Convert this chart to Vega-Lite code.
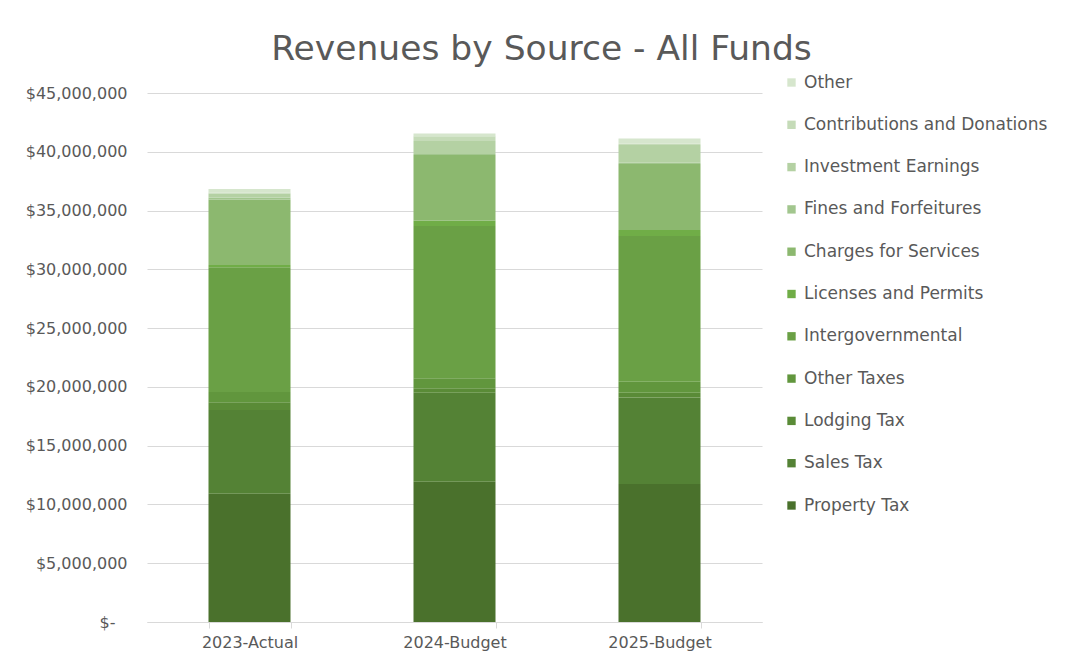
{
  "$schema": "https://vega.github.io/schema/vega-lite/v6.json",
  "width": 615,
  "height": 529,
  "autosize": {"type": "none"},
  "padding": {"left": 147, "top": 93, "right": 303, "bottom": 42},
  "background": "white",
  "title": {
    "text": "Revenues by Source - All Funds",
    "anchor": "middle",
    "dx": 87,
    "offset": 7,
    "font": "DejaVu Sans",
    "fontSize": 34.5,
    "fontWeight": "normal",
    "color": "#595959"
  },
  "data": {
    "values": [
      {"year": "2023-Actual", "source": "Property Tax", "rank": 1, "amount": 10900000},
      {"year": "2023-Actual", "source": "Sales Tax", "rank": 2, "amount": 7130000},
      {"year": "2023-Actual", "source": "Lodging Tax", "rank": 3, "amount": 670000},
      {"year": "2023-Actual", "source": "Other Taxes", "rank": 4, "amount": 860000},
      {"year": "2023-Actual", "source": "Intergovernmental", "rank": 5, "amount": 10620000},
      {"year": "2023-Actual", "source": "Licenses and Permits", "rank": 6, "amount": 190000},
      {"year": "2023-Actual", "source": "Charges for Services", "rank": 7, "amount": 5580000},
      {"year": "2023-Actual", "source": "Fines and Forfeitures", "rank": 8, "amount": 150000},
      {"year": "2023-Actual", "source": "Investment Earnings", "rank": 9, "amount": 330000},
      {"year": "2023-Actual", "source": "Contributions and Donations", "rank": 10, "amount": 100000},
      {"year": "2023-Actual", "source": "Other", "rank": 11, "amount": 300000},
      {"year": "2024-Budget", "source": "Property Tax", "rank": 1, "amount": 11940000},
      {"year": "2024-Budget", "source": "Sales Tax", "rank": 2, "amount": 7570000},
      {"year": "2024-Budget", "source": "Lodging Tax", "rank": 3, "amount": 370000},
      {"year": "2024-Budget", "source": "Other Taxes", "rank": 4, "amount": 850000},
      {"year": "2024-Budget", "source": "Intergovernmental", "rank": 5, "amount": 12960000},
      {"year": "2024-Budget", "source": "Licenses and Permits", "rank": 6, "amount": 450000},
      {"year": "2024-Budget", "source": "Charges for Services", "rank": 7, "amount": 5580000},
      {"year": "2024-Budget", "source": "Fines and Forfeitures", "rank": 8, "amount": 100000},
      {"year": "2024-Budget", "source": "Investment Earnings", "rank": 9, "amount": 1090000},
      {"year": "2024-Budget", "source": "Contributions and Donations", "rank": 10, "amount": 420000},
      {"year": "2024-Budget", "source": "Other", "rank": 11, "amount": 230000},
      {"year": "2025-Budget", "source": "Property Tax", "rank": 1, "amount": 11740000},
      {"year": "2025-Budget", "source": "Sales Tax", "rank": 2, "amount": 7350000},
      {"year": "2025-Budget", "source": "Lodging Tax", "rank": 3, "amount": 420000},
      {"year": "2025-Budget", "source": "Other Taxes", "rank": 4, "amount": 930000},
      {"year": "2025-Budget", "source": "Intergovernmental", "rank": 5, "amount": 12390000},
      {"year": "2025-Budget", "source": "Licenses and Permits", "rank": 6, "amount": 510000},
      {"year": "2025-Budget", "source": "Charges for Services", "rank": 7, "amount": 5620000},
      {"year": "2025-Budget", "source": "Fines and Forfeitures", "rank": 8, "amount": 100000},
      {"year": "2025-Budget", "source": "Investment Earnings", "rank": 9, "amount": 1510000},
      {"year": "2025-Budget", "source": "Contributions and Donations", "rank": 10, "amount": 120000},
      {"year": "2025-Budget", "source": "Other", "rank": 11, "amount": 450000}
    ]
  },
  "mark": {"type": "bar"},
  "encoding": {
    "x": {
      "field": "year",
      "type": "nominal",
      "title": null,
      "scale": {"paddingInner": 0.6, "paddingOuter": 0.3},
      "axis": {
        "labelAngle": 0,
        "labelFont": "DejaVu Sans",
        "labelFontSize": 16,
        "labelColor": "#595959",
        "domainColor": "#d9d9d9",
        "tickColor": "#d9d9d9",
        "tickSize": 6,
        "tickBand": "extent",
        "labelPadding": 6,
        "grid": false
      }
    },
    "y": {
      "field": "amount",
      "type": "quantitative",
      "stack": "zero",
      "title": null,
      "scale": {"domain": [0, 45000000], "nice": false},
      "axis": {
        "values": [0, 5000000, 10000000, 15000000, 20000000, 25000000, 30000000, 35000000, 40000000, 45000000],
        "labelExpr": "datum.value == 0 ? '$-' : '$' + format(datum.value, ',')",
        "labelFont": "DejaVu Sans",
        "labelFontSize": 16,
        "labelColor": "#595959",
        "labelPadding": {"condition": {"test": "datum.value == 0", "value": 32}, "value": 20},
        "domain": false,
        "ticks": false,
        "grid": true,
        "gridColor": "#d9d9d9",
        "gridWidth": 1
      }
    },
    "color": {
      "field": "source",
      "type": "nominal",
      "scale": {
        "domain": ["Other", "Contributions and Donations", "Investment Earnings", "Fines and Forfeitures", "Charges for Services", "Licenses and Permits", "Intergovernmental", "Other Taxes", "Lodging Tax", "Sales Tax", "Property Tax"],
        "range": ["#d6e6cd", "#c5dbb8", "#b4d1a3", "#a2c68e", "#8cb86f", "#70ad47", "#6aa045", "#61963d", "#5a8b37", "#548235", "#4a712c"]
      },
      "legend": {
        "title": null,
        "orient": "none",
        "legendX": 636,
        "legendY": -19,
        "symbolType": "square",
        "symbolSize": 70,
        "symbolStrokeWidth": 0,
        "labelFont": "DejaVu Sans",
        "labelFontSize": 17,
        "labelColor": "#595959",
        "labelOffset": 4,
        "rowPadding": 24.3,
        "labelLimit": 300
      }
    },
    "order": {"field": "rank", "type": "quantitative", "sort": "ascending"}
  },
  "config": {
    "view": {"stroke": null}
  }
}
